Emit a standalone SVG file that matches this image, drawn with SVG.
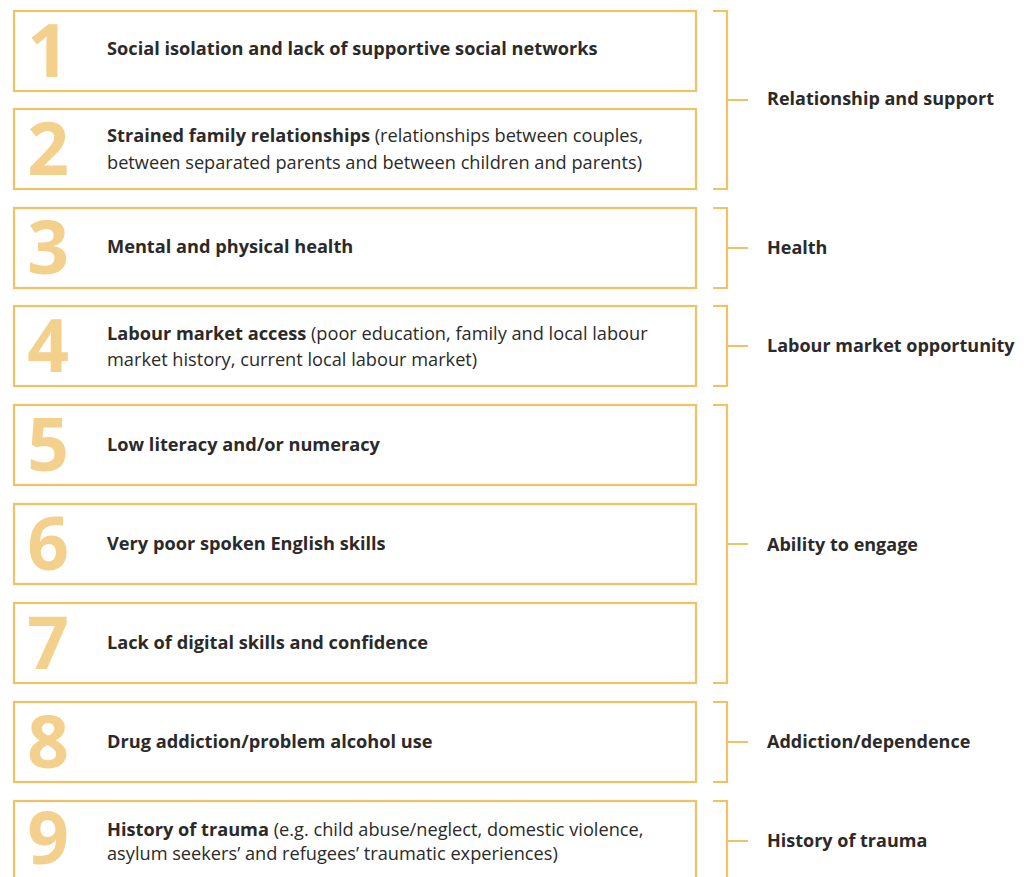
<svg xmlns="http://www.w3.org/2000/svg" width="1028" height="877" viewBox="0 0 1028 877">
<style>
.box{fill:#fff;stroke:#F0C266;stroke-width:2.2}
.br{fill:none;stroke:#F0C266;stroke-width:2.2}
.num{font-family:"Open Sans","Noto Sans",sans-serif;font-weight:700;font-size:73px;fill:#F3D08C;text-anchor:middle}
.t{font-family:"Open Sans","Noto Sans",sans-serif;font-size:18.2px;fill:#2b2a29}
.b{font-weight:700}
.lab{font-family:"Open Sans","Noto Sans",sans-serif;font-size:18px;font-weight:700;fill:#2b2a29}
</style>
<rect width="1028" height="877" fill="#fff"/>
<g id="node1"><rect class="box" x="14" y="11" width="682" height="80"/><text class="num" x="48" y="77">1</text><text class="t b" x="107" y="55">Social isolation and lack of supportive social networks</text></g>
<g id="node2"><rect class="box" x="14" y="109" width="682" height="80"/><text class="num" x="48" y="175">2</text><text class="t" x="107" y="142"><tspan class="b">Strained family relationships</tspan> (relationships between couples,</text><text class="t" x="107" y="169">between separated parents and between children and parents)</text></g>
<g id="node3"><rect class="box" x="14" y="208" width="682" height="80"/><text class="num" x="48" y="274">3</text><text class="t b" x="107" y="253">Mental and physical health</text></g>
<g id="node4"><rect class="box" x="14" y="306" width="682" height="80"/><text class="num" x="48" y="372">4</text><text class="t" x="107" y="340"><tspan class="b">Labour market access</tspan> (poor education, family and local labour</text><text class="t" x="107" y="366">market history, current local labour market)</text></g>
<g id="node5"><rect class="box" x="14" y="405" width="682" height="80"/><text class="num" x="48" y="471">5</text><text class="t b" x="107" y="451">Low literacy and/or numeracy</text></g>
<g id="node6"><rect class="box" x="14" y="504" width="682" height="80"/><text class="num" x="48" y="570">6</text><text class="t b" x="107" y="550">Very poor spoken English skills</text></g>
<g id="node7"><rect class="box" x="14" y="603" width="682" height="80"/><text class="num" x="48" y="669">7</text><text class="t b" x="107" y="649">Lack of digital skills and confidence</text></g>
<g id="node8"><rect class="box" x="14" y="702" width="682" height="80"/><text class="num" x="48" y="768">8</text><text class="t b" x="107" y="748">Drug addiction/problem alcohol use</text></g>
<g id="node9"><rect class="box" x="14" y="801" width="682" height="100"/><text class="num" x="48" y="864">9</text><text class="t" x="107" y="836"><tspan class="b">History of trauma</tspan> (e.g. child abuse/neglect, domestic violence,</text><text class="t" x="107" y="860">asylum seekers’ and refugees’ traumatic experiences)</text></g>
<g id="connectors">
<path class="br" d="M713 11H727V189H713M727 100H748"/>
<path class="br" d="M713 208H727V288H713M727 248H748"/>
<path class="br" d="M713 306H727V386H713M727 346H748"/>
<path class="br" d="M713 405H727V683H713M727 544H748"/>
<path class="br" d="M713 702H727V782H713M727 742H748"/>
<path class="br" d="M713 801H727V900M727 841H748"/>
</g>
<g id="labels">
<text class="lab" x="767" y="105">Relationship and support</text>
<text class="lab" x="767" y="254">Health</text>
<text class="lab" x="767" y="352">Labour market opportunity</text>
<text class="lab" x="767" y="551">Ability to engage</text>
<text class="lab" x="767" y="748">Addiction/dependence</text>
<text class="lab" x="767" y="847">History of trauma</text>
</g>
</svg>
